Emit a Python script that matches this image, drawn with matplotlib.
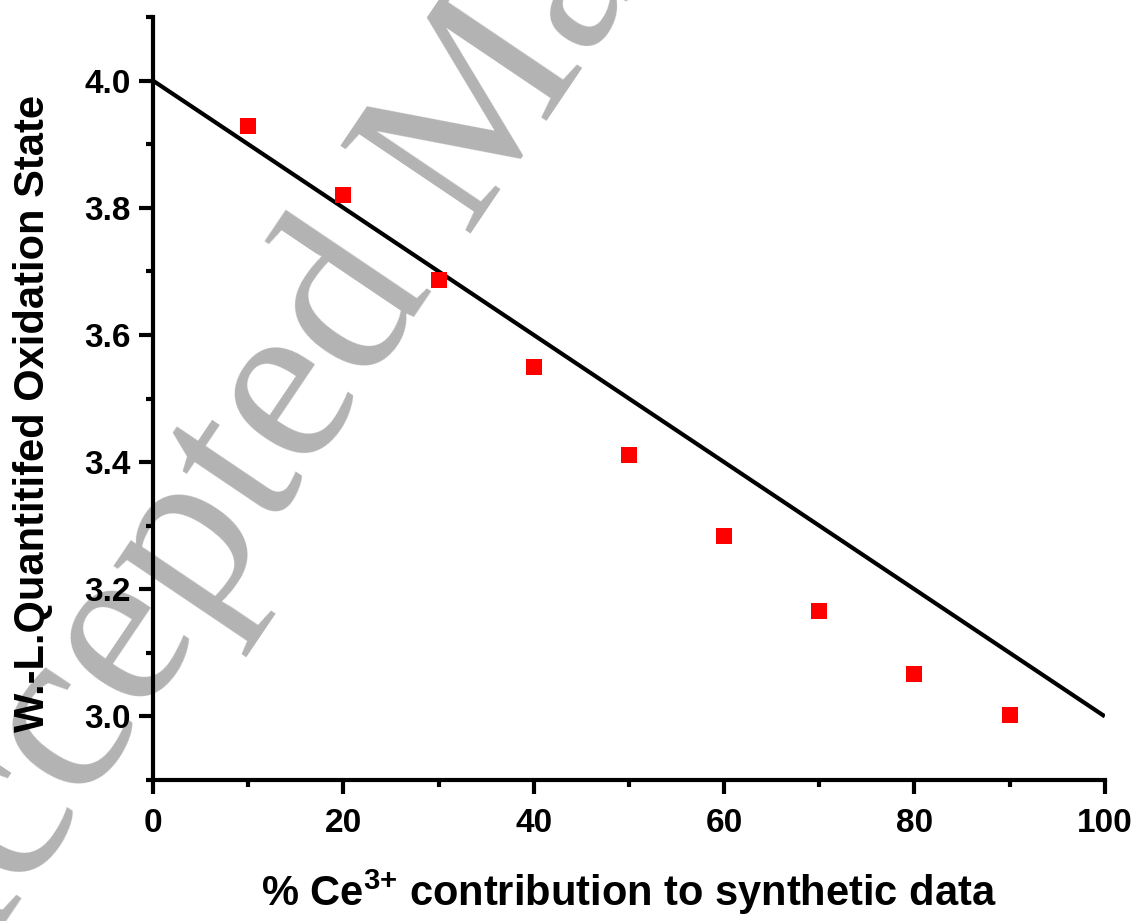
import matplotlib
matplotlib.use("Agg")
import matplotlib.pyplot as plt
from matplotlib.ticker import MultipleLocator

# data
ce3_pct = [10, 20, 30, 40, 50, 60, 70, 80, 90]
wl_state = [3.929, 3.820, 3.687, 3.549, 3.411, 3.284, 3.166, 3.066, 3.003]
ideal_x = [0, 100]
ideal_y = [4.0, 3.0]

plt.rcParams['font.family'] = ['Liberation Sans', 'DejaVu Sans']
plt.rcParams['mathtext.fontset'] = 'custom'
plt.rcParams['mathtext.rm'] = 'Liberation Sans:bold'
plt.rcParams['mathtext.bf'] = 'Liberation Sans:bold'
plt.rcParams['mathtext.default'] = 'bf'

fig = plt.figure(figsize=(11.39, 9.21), dpi=100)
ax = fig.add_axes([0.1343, 0.1531, 0.970 - 0.1343, 0.9815 - 0.1531])
ax.set_facecolor('none')

# watermark behind the plot
fig.text(-0.064, -0.130, "Accepted Manuscript", family='Liberation Serif',
         fontweight='normal', fontsize=173, color='#b3b3b3', rotation=56,
         rotation_mode='anchor', ha='left', va='baseline', zorder=-1)

ax.plot(ideal_x, ideal_y, color='black', lw=3, solid_capstyle='butt', zorder=2)
ax.plot(ce3_pct, wl_state, ls='none', marker='s', ms=11.5, color='red',
        markeredgewidth=0, zorder=3)

ax.set_xlim(0, 100)
ax.set_ylim(2.9, 4.1)
ax.xaxis.set_major_locator(MultipleLocator(20))
ax.xaxis.set_minor_locator(MultipleLocator(10))
ax.yaxis.set_major_locator(MultipleLocator(0.2))
ax.yaxis.set_minor_locator(MultipleLocator(0.1))
ax.yaxis.set_major_formatter(plt.FormatStrFormatter('%.1f'))

for s in ['top', 'right']:
    ax.spines[s].set_visible(False)
for s in ['left', 'bottom']:
    ax.spines[s].set_linewidth(3)

ax.tick_params(which='major', direction='out', length=10, width=3, labelsize=24)
ax.tick_params(axis='x', which='major', pad=10)
ax.tick_params(axis='y', which='major', pad=6)
ax.tick_params(which='minor', direction='out', length=5, width=3)
for lab in ax.get_xticklabels() + ax.get_yticklabels():
    lab.set_fontweight('bold')

ax.set_xlabel(r"% Ce$^{3{+}}$ contribution to synthetic data",
              fontsize=30, fontweight='bold', labelpad=21)
ax.set_ylabel("W.-L.Quantitifed Oxidation State", fontsize=30,
              fontweight='bold')
ax.yaxis.set_label_coords(-0.105, 0.481)

fig.savefig("out.png", dpi=100)
